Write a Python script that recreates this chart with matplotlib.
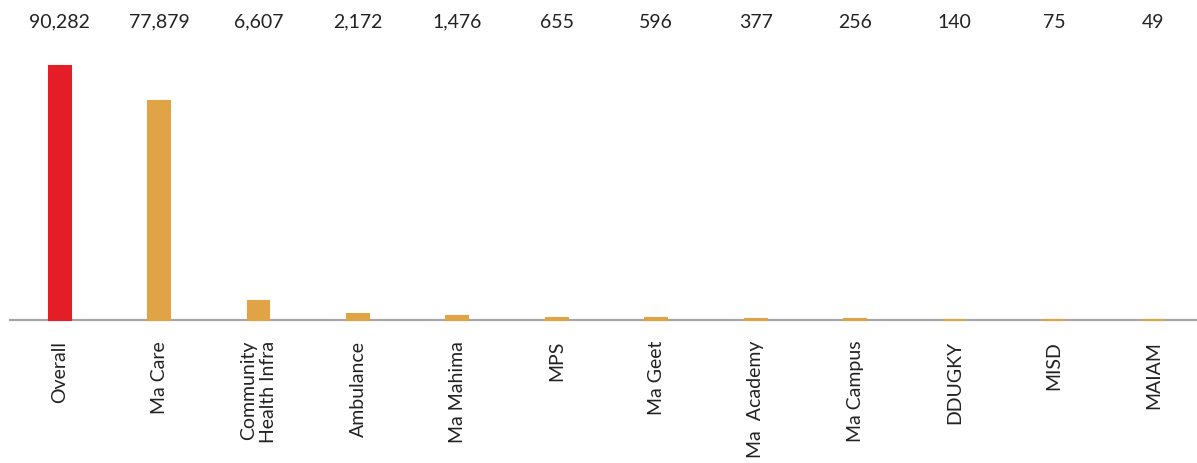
import matplotlib
matplotlib.use("Agg")
import matplotlib.pyplot as plt
from matplotlib.transforms import blended_transform_factory

categories = ["Overall", "Ma Care", "Community\nHealth Infra", "Ambulance", "Ma Mahima",
              "MPS", "Ma Geet", "Ma  Academy", "Ma Campus", "DDUGKY", "MISD", "MAIAM"]
values = [90282, 77879, 6607, 2172, 1476, 655, 596, 377, 256, 140, 75, 49]
value_labels = ["90,282", "77,879", "6,607", "2,172", "1,476", "655", "596",
                "377", "256", "140", "75", "49"]

RED = "#E31E26"
ORANGE = "#E0A447"

plt.rcParams["font.family"] = ["Lato", "DejaVu Sans"]

fig = plt.figure(figsize=(11.97, 4.63), dpi=100)
W, H = 1197, 463
# axes spans from baseline (y=320 px) up to the top of the tallest bar (y=66 px)
ax = fig.add_axes([10 / W, 1 - 320 / H, (W - 10) / W, (320 - 66) / H])

x = list(range(len(categories)))
colors = [RED] + [ORANGE] * (len(categories) - 1)
# bars above the spine so the tiny ones still show as a stub on the axis
ax.bar(x, values, width=0.22, color=colors, edgecolor=colors, linewidth=1.5,
       zorder=3, clip_on=False)

ax.set_xlim(-0.5, 11.44)
ax.set_ylim(0, max(values))

for s in ["top", "right", "left"]:
    ax.spines[s].set_visible(False)
ax.spines["bottom"].set_color("#A6A6A6")
ax.spines["bottom"].set_linewidth(1.6)
ax.set_yticks([])
ax.set_xticks(x)
ax.set_xticklabels(categories, rotation=90, va="top", ha="center",
                   multialignment="right", fontsize=14, color="#222222")
ax.tick_params(axis="x", length=0, pad=15)

trans = blended_transform_factory(ax.transData, ax.transAxes)
for xi, lab in zip(x, value_labels):
    ax.text(xi, (320 - 22) / (320 - 66), lab, transform=trans, ha="center",
            va="center", fontsize=14, color="#222222")

fig.savefig("out.png", dpi=100)
